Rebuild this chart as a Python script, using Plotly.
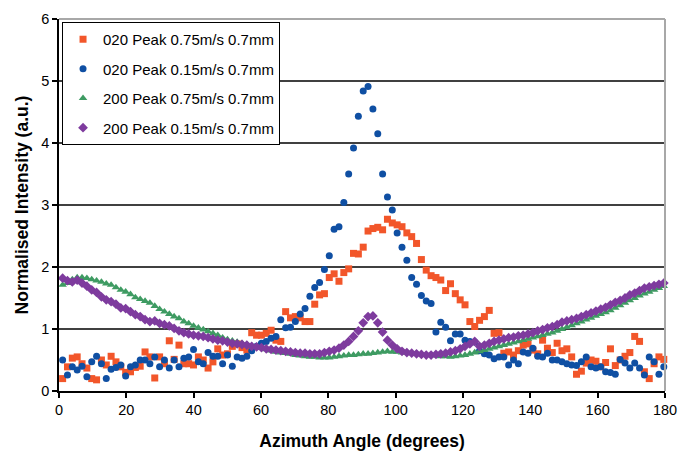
import plotly.graph_objects as go

angle = [
    1.08, 2.52, 3.96, 5.4, 6.84, 8.28, 9.72, 11.16, 12.6, 14.04,
    15.48, 16.92, 18.36, 19.8, 21.24, 22.68, 24.12, 25.56, 27.0, 28.44,
    29.88, 31.32, 32.76, 34.2, 35.64, 37.08, 38.52, 39.96, 41.4, 42.84,
    44.28, 45.72, 47.16, 48.6, 50.04, 51.48, 52.92, 54.36, 55.8, 57.24,
    58.68, 60.12, 61.56, 63.0, 64.44, 65.88, 67.32, 68.76, 70.2, 71.64,
    73.08, 74.52, 75.96, 77.4, 78.84, 80.28, 81.72, 83.16, 84.6, 86.04,
    87.48, 88.92, 90.36, 91.8, 93.24, 94.68, 96.12, 97.56, 99.0, 100.44,
    101.88, 103.32, 104.76, 106.2, 107.64, 109.08, 110.52, 111.96, 113.4, 114.84,
    116.28, 117.72, 119.16, 120.6, 122.04, 123.48, 124.92, 126.36, 127.8, 129.24,
    130.68, 132.12, 133.56, 135.0, 136.44, 137.88, 139.32, 140.76, 142.2, 143.64,
    145.08, 146.52, 147.96, 149.4, 150.84, 152.28, 153.72, 155.16, 156.6, 158.04,
    159.48, 160.92, 162.36, 163.8, 165.24, 166.68, 168.12, 169.56, 171.0, 172.44,
    173.88, 175.32, 176.76, 178.2, 179.64,
]

peak020_075 = [
    0.2, 0.39, 0.53, 0.55, 0.44, 0.37, 0.2, 0.18, 0.5, 0.42,
    0.56, 0.47, 0.39, 0.3, 0.31, 0.38, 0.4, 0.63, 0.55, 0.21,
    0.55, 0.44, 0.81, 0.51, 0.74, 0.44, 0.44, 0.42, 0.55, 0.5,
    0.37, 0.47, 0.68, 0.58, 0.6, 0.72, 0.76, 0.7, 0.66, 0.94,
    0.9, 0.9, 0.93, 0.98, 0.82, 0.8, 1.28, 1.18, 1.2, 1.18,
    1.12, 1.12, 1.4, 1.55, 1.57, 1.83, 1.89, 1.77, 1.91, 1.97,
    2.22, 2.21, 2.32, 2.58, 2.62, 2.64, 2.6, 2.77, 2.71, 2.68,
    2.65, 2.55, 2.49, 2.38, 2.12, 1.95, 1.86, 1.83, 1.79, 1.62,
    1.73, 1.57, 1.47, 1.39, 1.12, 1.04, 1.14, 1.2, 1.3, 0.93,
    0.94, 0.61, 0.63, 0.58, 0.65, 0.74, 0.76, 0.66, 0.6, 0.82,
    0.69, 0.62, 0.77, 0.65, 0.68, 0.55, 0.27, 0.32, 0.45, 0.5,
    0.48, 0.39, 0.46, 0.68, 0.41, 0.5, 0.56, 0.62, 0.88, 0.8,
    0.31, 0.2, 0.44, 0.55, 0.51,
]

peak020_015 = [
    0.5, 0.26, 0.39, 0.34, 0.4, 0.23, 0.47, 0.56, 0.44, 0.2,
    0.35, 0.38, 0.42, 0.24, 0.39, 0.42, 0.5, 0.5, 0.44, 0.55,
    0.39, 0.5, 0.37, 0.5, 0.39, 0.53, 0.55, 0.67, 0.47, 0.44,
    0.62, 0.56, 0.56, 0.44, 0.58, 0.4, 0.55, 0.53, 0.56, 0.65,
    0.72, 0.77, 0.8, 0.85, 0.88, 1.15, 1.02, 1.03, 1.12, 1.24,
    1.33, 1.53, 1.67, 1.75, 1.96, 2.18, 2.61, 2.65, 3.04, 3.5,
    3.92, 4.43, 4.84, 4.91, 4.55, 4.15, 3.5, 3.13, 2.92, 2.55,
    2.32, 2.11, 1.83, 1.72, 1.54, 1.45, 1.41, 0.95, 1.11, 1.03,
    0.81, 0.92, 0.92, 0.82, 0.8, 0.79, 0.65, 0.6, 0.58, 0.52,
    0.55, 0.55, 0.42, 0.5, 0.44, 0.63, 0.61, 0.69, 0.56, 0.55,
    0.61, 0.5, 0.5, 0.47, 0.44, 0.42, 0.41, 0.47, 0.55, 0.39,
    0.37, 0.39, 0.31, 0.3, 0.27, 0.51, 0.45, 0.37, 0.45, 0.37,
    0.26, 0.55, 0.47, 0.27, 0.39,
]

peak200_075 = [
    1.71, 1.74, 1.8, 1.83, 1.83, 1.82, 1.8, 1.78, 1.76, 1.73,
    1.71, 1.67, 1.63, 1.6, 1.56, 1.51, 1.48, 1.45, 1.42, 1.37,
    1.32, 1.28, 1.24, 1.2, 1.17, 1.12, 1.09, 1.05, 1.02, 0.99,
    0.96, 0.93, 0.9, 0.86, 0.83, 0.81, 0.79, 0.77, 0.75, 0.73,
    0.71, 0.69, 0.67, 0.65, 0.63, 0.62, 0.61, 0.6, 0.58, 0.57,
    0.56, 0.55, 0.55, 0.54, 0.54, 0.54, 0.55, 0.56, 0.57, 0.58,
    0.58, 0.59, 0.6, 0.6, 0.61, 0.62, 0.63, 0.64, 0.63, 0.63,
    0.62, 0.62, 0.61, 0.6, 0.59, 0.58, 0.58, 0.57, 0.56, 0.56,
    0.55, 0.56, 0.57, 0.58, 0.6, 0.62, 0.64, 0.66, 0.68, 0.7,
    0.72, 0.74, 0.76, 0.78, 0.8, 0.82, 0.84, 0.86, 0.88, 0.9,
    0.92, 0.94, 0.97, 1.0, 1.03, 1.06, 1.09, 1.12, 1.15, 1.18,
    1.21, 1.24, 1.27, 1.3, 1.34, 1.38, 1.42, 1.46, 1.5, 1.54,
    1.57, 1.6, 1.63, 1.66, 1.69,
]

peak200_015 = [
    1.82, 1.78, 1.76, 1.79, 1.74, 1.69, 1.63, 1.59, 1.52, 1.47,
    1.44, 1.4, 1.34, 1.33, 1.28, 1.23, 1.2, 1.15, 1.12, 1.13,
    1.09, 1.07, 1.05, 1.01, 0.97, 0.94, 0.92, 0.9, 0.89, 0.88,
    0.86, 0.84, 0.82, 0.81, 0.79, 0.77, 0.76, 0.75, 0.74, 0.72,
    0.71, 0.7, 0.68, 0.67, 0.66, 0.65, 0.64, 0.63, 0.62, 0.61,
    0.61, 0.6, 0.6, 0.6, 0.62, 0.64, 0.66, 0.69, 0.74, 0.8,
    0.88, 0.97, 1.1, 1.2, 1.21, 1.1, 0.95, 0.82, 0.74, 0.68,
    0.64, 0.62, 0.61, 0.6, 0.59, 0.58, 0.58, 0.59, 0.6, 0.61,
    0.63, 0.65, 0.68, 0.72, 0.76, 0.8, 0.72, 0.74, 0.77, 0.8,
    0.82, 0.84, 0.86, 0.87, 0.89, 0.9, 0.92, 0.94, 0.97, 0.99,
    1.02, 1.04, 1.07, 1.11, 1.13, 1.15, 1.17, 1.2, 1.23, 1.26,
    1.29, 1.32, 1.35, 1.39, 1.43, 1.46, 1.5, 1.55, 1.58, 1.62,
    1.66, 1.68, 1.7, 1.72, 1.74,
]

series_names = [
    "020 Peak 0.75m/s 0.7mm",
    "020 Peak 0.15m/s 0.7mm",
    "200 Peak 0.75m/s 0.7mm",
    "200 Peak 0.15m/s 0.7mm",
]
series_values = [peak020_075, peak020_015, peak200_075, peak200_015]
series_colors = ["#F2562A", "#0F4FA3", "#3E9B62", "#7E3B9E"]
series_symbols = ["square", "circle", "triangle-up", "diamond"]
series_sizes = [7, 7, 7.5, 7.5]

y_ticks = [0, 1, 2, 3, 4, 5, 6]
x_ticks = [0, 20, 40, 60, 80, 100, 120, 140, 160, 180]

FONT = "Liberation Sans, Arial, sans-serif"

fig = go.Figure()
for i, (name, vals, col, sym, sz) in enumerate(
    zip(series_names, series_values, series_colors, series_symbols, series_sizes)
):
    fig.add_trace(
        go.Scatter(
            x=angle,
            y=vals,
            mode="markers",
            name=name,
            legendgroup=f"g{i}",
            marker=dict(color=col, symbol=sym, size=sz, line=dict(width=0)),
            cliponaxis=False,
        )
    )

fig.update_layout(
    width=678,
    height=453,
    margin=dict(l=59, r=13, t=19, b=62, autoexpand=False),
    paper_bgcolor="white",
    plot_bgcolor="white",
    font=dict(family=FONT, color="black", size=14.5),
    showlegend=True,
    legend=dict(
        x=0.005,
        y=0.992,
        xanchor="left",
        yanchor="top",
        bgcolor="white",
        bordercolor="black",
        borderwidth=1,
        font=dict(family=FONT, size=15, color="black"),
        traceorder="grouped",
        tracegroupgap=7,
        itemsizing="trace",
    ),
    xaxis=dict(
        range=[0, 180],
        tickvals=x_ticks,
        ticktext=[str(v) for v in x_ticks],
        showgrid=False,
        zeroline=False,
        showline=True,
        linecolor="black",
        linewidth=1.5,
        ticks="outside",
        ticklen=5,
        tickwidth=1.5,
        tickcolor="black",
        tickfont=dict(size=14.5),
        automargin=False,
        title=dict(
            text="<b>Azimuth Angle (degrees)</b>",
            font=dict(size=17.5),
            standoff=18,
        ),
    ),
    yaxis=dict(
        range=[0, 6],
        tickvals=y_ticks,
        ticktext=[str(v) for v in y_ticks],
        showgrid=True,
        gridcolor="#404040",
        gridwidth=1.5,
        zeroline=False,
        showline=True,
        linecolor="black",
        linewidth=1.5,
        ticks="outside",
        ticklen=5,
        tickwidth=1.5,
        tickcolor="black",
        tickfont=dict(size=14.5),
        automargin=False,
        title=dict(
            text="<b>Normalised Intensity (a.u.)</b>",
            font=dict(size=17.5),
            standoff=8,
        ),
    ),
    shapes=[
        dict(type="line", xref="paper", yref="paper", x0=0, x1=1, y0=1, y1=1,
             line=dict(color="#A8A8A8", width=2), layer="above"),
        dict(type="line", xref="paper", yref="paper", x0=1, x1=1, y0=0, y1=1,
             line=dict(color="#A8A8A8", width=2), layer="above"),
    ],
)

fig.write_html("out.html")
